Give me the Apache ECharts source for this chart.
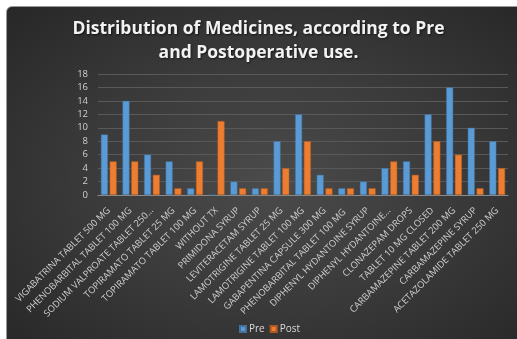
<!DOCTYPE html>
<html>
<head>
<meta charset="utf-8">
<script src="https://cdn.jsdelivr.net/npm/echarts@6/dist/echarts.min.js"></script>
<style>
  html, body { margin: 0; padding: 0; background: #ffffff; }
  #frame {
    position: absolute; left: 6px; top: 6px; width: 530px; height: 350px;
    border: 1px solid #9a9a9a; border-radius: 6px; box-sizing: border-box;
    background: radial-gradient(ellipse at 50% 50%, #4b4b4b 0%, #3a3a3a 50%, #272727 100%);
  }
  #chart { position: absolute; left: 0; top: 0; width: 517px; height: 339px; }
</style>
</head>
<body>
<div id="frame"></div>
<div id="chart"></div>
<script>
// 分类（药品名称）
const categories = [
    'VIGABATRINA TABLET 500 MG',
    'PHENOBARBITAL TABLET 100 MG',
    'SODIUM VALPROATE TABLET 250…',
    'TOPIRAMATO TABLET 25 MG',
    'TOPIRAMATO TABLET 100 MG',
    'WITHOUT TX',
    'PRIMIDONA SYRUP',
    'LEVITERACETAM SYRUP',
    'LAMOTRIGINE TABLET 25 MG',
    'LAMOTRIGINE TABLET 100 MG',
    'GABAPENTINA CAPSULE 300 MG',
    'PHENOBARBITAL TABLET 100 MG ',
    'DIPHENYL HYDANTOINE SYRUP',
    'DIPHENYL HYDANTOINE…',
    'CLONAZEPAM DROPS',
    'TABLET 10 MG CLOSED',
    'CARBAMAZEPINE TABLET 200 MG',
    'CARBAMAZEPINE SYRUP',
    'ACETAZOLAMIDE TABLET 250 MG',
];

// 术前 / 术后
const preValues = [9, 14, 6, 5, 1, 0, 2, 1, 8, 12, 3, 1, 2, 4, 5, 12, 16, 10, 8];
const postValues = [5, 5, 3, 1, 5, 11, 1, 1, 4, 8, 1, 1, 1, 5, 3, 8, 6, 1, 4];

const yMin = 0;
const yMax = 18;
const yStep = 2;

const titleLines = ['Distribution of Medicines, according to Pre', 'and Postoperative use.'];

const myChart = echarts.init(document.getElementById('chart'));

const option = {
    backgroundColor: 'transparent',
    title: {
        text: titleLines.join('\n'),
        left: 'center',
        top: 12,
        textStyle: {
            color: '#f2f2f2',
            fontFamily: 'Open Sans',
            fontWeight: 'bold',
            fontSize: 17.5,
            lineHeight: 24,
            textShadowColor: 'rgba(0,0,0,0.6)',
            textShadowBlur: 2,
            textShadowOffsetX: 1,
            textShadowOffsetY: 1,
        },
    },
    legend: {
        data: ['Pre', 'Post'],
        bottom: 0,
        left: 234,
        itemWidth: 6,
        itemHeight: 6,
        itemGap: 5,
        icon: 'rect',
        textStyle: { color: '#d9d9d9', fontFamily: 'Open Sans', fontSize: 10, padding: [0, 0, 0, -2] },
    },
    grid: {
        left: 98,
        right: 9,
        top: 74,
        bottom: 144,
    },
    xAxis: {
        type: 'category',
        data: categories,
        axisTick: { show: false },
        axisLine: { lineStyle: { color: '#8c8c8c' } },
        axisLabel: {
            rotate: 45,
            interval: 0,
            color: '#d0d0d0',
            fontFamily: 'Open Sans',
            fontSize: 9.3,
            margin: 14,
        },
    },
    yAxis: {
        type: 'value',
        min: yMin,
        max: yMax,
        interval: yStep,
        axisLine: { show: false },
        axisTick: { show: false },
        splitLine: { lineStyle: { color: '#595959' } },
        axisLabel: { color: '#d0d0d0', fontFamily: 'Open Sans', fontSize: 9.5, margin: 10 },
    },
    series: [
        {
            name: 'Pre',
            type: 'bar',
            data: preValues,
            barWidth: 7,
            barGap: '25%',
            itemStyle: { color: '#5b9bd5', borderColor: '#41719c', borderWidth: 0.5 },
        },
        {
            name: 'Post',
            type: 'bar',
            data: postValues,
            barWidth: 7,
            itemStyle: { color: '#ed7d31', borderColor: '#ae5a21', borderWidth: 0.5 },
        },
    ],
};

myChart.setOption(option);
</script>
</body>
</html>
